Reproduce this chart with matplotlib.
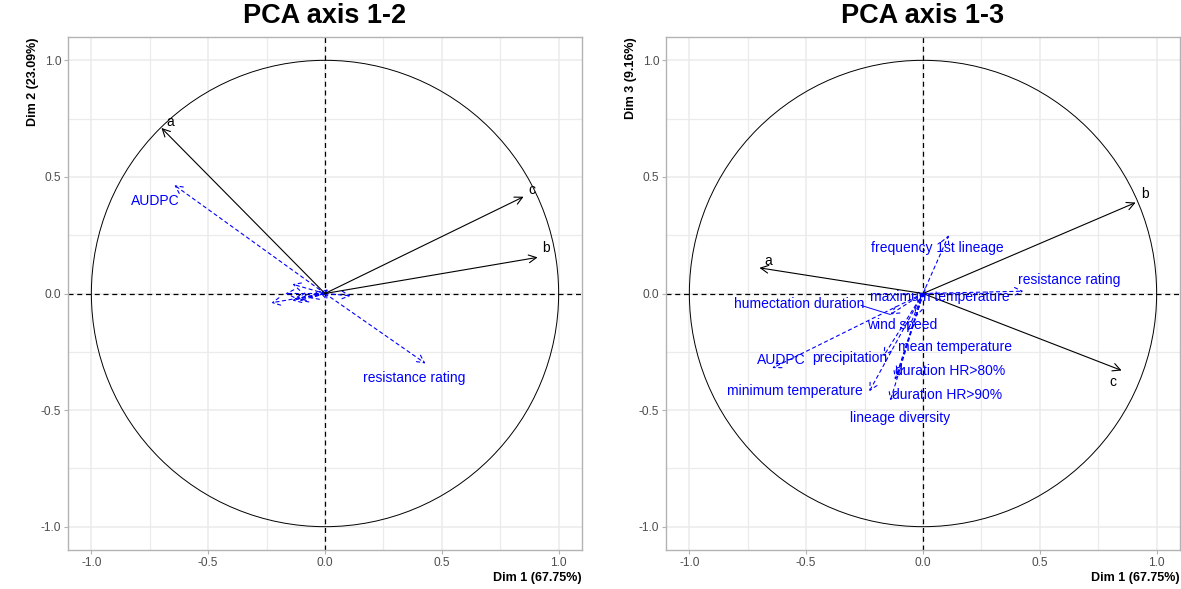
import matplotlib
matplotlib.use("Agg")
import matplotlib.pyplot as plt
from matplotlib.patches import Circle
import numpy as np

plt.rcParams['font.family'] = ['Liberation Sans', 'DejaVu Sans']

# Active variables: correlations with the principal dimensions
active_vars = ["a", "b", "c"]
active_dim1 = [-0.70, 0.91, 0.85]
active_dim2 = [0.71, 0.155, 0.415]
active_dim3 = [0.11, 0.39, -0.33]

# Supplementary quantitative variables
sup_vars = ["frequency 1st lineage", "resistance rating", "AUDPC",
            "humectation duration", "maximum temperature", "wind speed",
            "mean temperature", "precipitation", "duration HR>80%",
            "minimum temperature", "duration HR>90%", "lineage diversity"]
sup_dim1 = [0.11, 0.43, -0.645, -0.14, 0.01, -0.03, -0.065, -0.17, -0.11, -0.23, -0.12, -0.14]
sup_dim2 = [-0.01, -0.30, 0.465, 0.04, 0.02, 0.01, -0.02, 0.0, -0.03, -0.04, -0.02, -0.03]
sup_dim3 = [0.25, 0.01, -0.32, -0.09, -0.02, -0.10, -0.16, -0.27, -0.35, -0.42, -0.37, -0.46]

dim_pct = {1: 67.75, 2: 23.09, 3: 9.16}

tick_vals = [-1.0, -0.5, 0.0, 0.5, 1.0]
tick_text = ["-1.0", "-0.5", "0.0", "0.5", "1.0"]

# Where the variable names are written in each panel (repelled placement)
labels_12 = {
    "a": (-0.662, 0.737), "b": (0.944, 0.193), "c": (0.885, 0.445),
    "AUDPC": (-0.726, 0.398), "resistance rating": (0.38, -0.364),
}
labels_13 = {
    "a": (-0.662, 0.141), "b": (0.949, 0.428), "c": (0.812, -0.381),
    "frequency 1st lineage": (0.06, 0.197),
    "resistance rating": (0.624, 0.06),
    "maximum temperature": (0.073, -0.013),
    "humectation duration": (-0.53, -0.047),
    "wind speed": (-0.09, -0.137),
    "mean temperature": (0.137, -0.23),
    "AUDPC": (-0.607, -0.287),
    "precipitation": (-0.312, -0.278),
    "duration HR>80%": (0.115, -0.334),
    "minimum temperature": (-0.547, -0.42),
    "duration HR>90%": (0.103, -0.437),
    "lineage diversity": (-0.098, -0.535),
}
# label -> (segment start) for labels joined to their arrow by a leader line
leaders_13 = {"humectation duration": (-0.265, -0.051)}

W, H = 1181, 589
fig = plt.figure(figsize=(W / 100, H / 100), dpi=100)

BLUE = "#0000FF"
GRID = "#EBEBEB"
BORDER = "#B3B3B3"
TICKC = "#4D4D4D"


def panel(left_px, ydim, ysup, yact, labels, title, leaders=None):
    ax = fig.add_axes([left_px / W, 1 - 550 / H, 514 / W, 513 / H])
    ax.set_xlim(-1.1, 1.1)
    ax.set_ylim(-1.1, 1.1)
    ax.set_xticks(tick_vals)
    ax.set_yticks(tick_vals)
    ax.set_xticklabels(tick_text)
    ax.set_yticklabels(tick_text)
    ax.set_xticks([-0.75, -0.25, 0.25, 0.75], minor=True)
    ax.set_yticks([-0.75, -0.25, 0.25, 0.75], minor=True)
    ax.grid(True, which="major", color=GRID, lw=1.1, zorder=0)
    ax.grid(True, which="minor", color=GRID, lw=0.9, zorder=0)
    ax.set_axisbelow(True)
    ax.tick_params(which="major", direction="out", length=3, width=0.8,
                   color=BORDER, labelcolor=TICKC, labelsize=8.6, pad=2)
    ax.tick_params(which="minor", length=0)
    for sp in ax.spines.values():
        sp.set_color(BORDER)
        sp.set_linewidth(1.0)

    ax.add_patch(Circle((0, 0), 1.0, fill=False, ec="black", lw=0.7, zorder=2))
    ax.axhline(0, color="black", ls=(0, (4, 3)), lw=0.9, zorder=2)
    ax.axvline(0, color="black", ls=(0, (4, 3)), lw=0.9, zorder=2)

    for name, x, y in zip(sup_vars, sup_dim1, ysup):
        ax.annotate("", xy=(x, y), xytext=(0, 0),
                    arrowprops=dict(arrowstyle="->,head_length=0.55,head_width=0.28",
                                    color=BLUE, lw=0.8, linestyle=(0, (3, 3)),
                                    shrinkA=0, shrinkB=0), zorder=3)
    for name, x, y in zip(active_vars, active_dim1, yact):
        ax.annotate("", xy=(x, y), xytext=(0, 0),
                    arrowprops=dict(arrowstyle="->,head_length=0.55,head_width=0.28",
                                    color="black", lw=0.8,
                                    shrinkA=0, shrinkB=0), zorder=4)

    if leaders:
        for name, start in leaders.items():
            i = sup_vars.index(name)
            ax.plot([start[0], sup_dim1[i]], [start[1], ysup[i]],
                    color=BLUE, lw=0.7, zorder=3)

    for name, (lx, ly) in labels.items():
        col = "black" if name in active_vars else BLUE
        ax.text(lx, ly, name, color=col, fontsize=10, ha="center",
                va="center", zorder=5)

    cx = (left_px + 257) / W
    fig.text(cx, 1 - 16 / H, title, ha="center", va="center",
             fontsize=19.5, fontweight="bold")
    fig.text((left_px + 514) / W, 1 - 578 / H,
             f"Dim 1 ({dim_pct[1]:.2f}%)", ha="right", va="center",
             fontsize=9, fontweight="bold")
    fig.text((left_px - 35) / W, 1 - 37 / H,
             f"Dim {ydim} ({dim_pct[ydim]:.2f}%)", ha="center", va="top",
             rotation=90, fontsize=9, fontweight="bold")
    return ax


panel(68, 2, sup_dim2, active_dim2, labels_12, "PCA axis 1-2")
panel(666, 3, sup_dim3, active_dim3, labels_13, "PCA axis 1-3", leaders_13)

fig.savefig("out.png", dpi=100, facecolor="white")
